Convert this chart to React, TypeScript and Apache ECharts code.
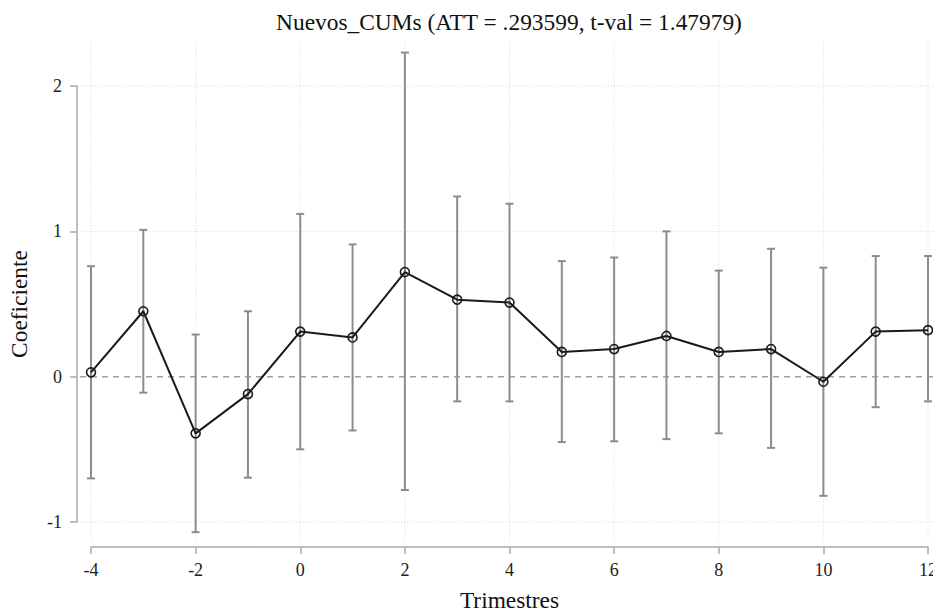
import { useEffect, useRef } from "react";
import * as echarts from "echarts";

// ---- data ----
const periods = [-4, -3, -2, -1, 0, 1, 2, 3, 4, 5, 6, 7, 8, 9, 10, 11, 12];
const coef = [0.03, 0.45, -0.39, -0.12, 0.31, 0.27, 0.72, 0.53, 0.51, 0.17, 0.19, 0.28, 0.17, 0.19, -0.035, 0.31, 0.32];
const ciLow = [-0.7, -0.11, -1.07, -0.695, -0.5, -0.37, -0.78, -0.17, -0.17, -0.45, -0.445, -0.43, -0.39, -0.49, -0.82, -0.21, -0.17];
const ciHigh = [0.76, 1.01, 0.29, 0.45, 1.12, 0.91, 2.23, 1.24, 1.19, 0.795, 0.82, 1.0, 0.73, 0.88, 0.75, 0.83, 0.83];
const xGridValues = [-4, -2, 0, 2, 4, 6, 8, 10, 12];
const yGridValues = [-1, 1, 2];
const refLineValues = [0];

const titleText = "Nuevos_CUMs (ATT = .293599, t-val = 1.47979)";
const xName = "Trimestres";
const yName = "Coeficiente";

// plot-region extent (data units) beyond the tick range
const PLOT_X_MIN = -4.21;
const PLOT_X_MAX = 12.6;
const PLOT_Y_MIN = -1.13;
const PLOT_Y_MAX = 2.3;

const FONT = "'Liberation Serif', 'Times New Roman', serif";
const AXIS_COLOR = "#ababab";

export default function App() {
  const ref = useRef<HTMLDivElement>(null);

  useEffect(() => {
    if (!ref.current) return;
    const chart = echarts.init(ref.current, null, { renderer: "svg" });

    const option: any = {
      animation: false,
      backgroundColor: "#ffffff",
      graphic: [
        {
          type: "text",
          x: 509,
          y: 22,
          style: {
            text: titleText,
            font: `23.4px ${FONT}`,
            fill: "#111111",
            textAlign: "center",
            textVerticalAlign: "middle",
          },
        },
      ],
      grid: { left: 91, top: 86, width: 837, height: 436, outerBoundsMode: "none", containLabel: false },
      xAxis: {
        type: "value",
        min: -4,
        max: 12,
        interval: 2,
        offset: 25,
        name: xName,
        nameLocation: "middle",
        nameGap: 41,
        nameTextStyle: { fontFamily: FONT, fontSize: 23.4, color: "#111" },
        axisLine: { show: true, onZero: false, lineStyle: { color: AXIS_COLOR, width: 1.5 } },
        axisTick: { show: true, length: 7, lineStyle: { color: AXIS_COLOR, width: 1.5 } },
        axisLabel: { fontFamily: FONT, fontSize: 18, color: "#222", margin: 14 },
        splitLine: { show: false },
      },
      yAxis: {
        type: "value",
        min: -1,
        max: 2,
        interval: 1,
        offset: 14,
        name: yName,
        nameLocation: "middle",
        nameGap: 47,
        nameTextStyle: { fontFamily: FONT, fontSize: 23.4, color: "#111" },
        axisLine: { show: true, onZero: false, lineStyle: { color: AXIS_COLOR, width: 1.5 } },
        axisTick: { show: true, length: 7, lineStyle: { color: AXIS_COLOR, width: 1.5 } },
        axisLabel: { fontFamily: FONT, fontSize: 18, color: "#222", margin: 15 },
        splitLine: { show: false },
      },
      series: [
        {
          type: "custom",
          name: "vgrid",
          clip: false,
          silent: true,
          z: 1,
          data: xGridValues.map((v) => [v, 0]),
          renderItem: (params: any, api: any) => {
            const x = api.value(0);
            const a = api.coord([x, PLOT_Y_MAX]);
            const b = api.coord([x, PLOT_Y_MIN]);
            return {
              type: "line",
              shape: { x1: a[0], y1: a[1], x2: b[0], y2: b[1] },
              style: { stroke: "#d8d8d8", lineWidth: 1, lineDash: [1, 2] },
            };
          },
        },
        {
          type: "custom",
          name: "hgrid",
          clip: false,
          silent: true,
          z: 1,
          data: yGridValues.map((v) => [0, v]),
          renderItem: (params: any, api: any) => {
            const y = api.value(1);
            const a = api.coord([PLOT_X_MIN, y]);
            const b = api.coord([PLOT_X_MAX, y]);
            return {
              type: "line",
              shape: { x1: a[0], y1: a[1], x2: b[0], y2: b[1] },
              style: { stroke: "#d8d8d8", lineWidth: 1, lineDash: [1, 2] },
            };
          },
        },
        {
          type: "custom",
          name: "zero",
          clip: false,
          silent: true,
          z: 2,
          data: refLineValues.map((v) => [0, v]),
          renderItem: (params: any, api: any) => {
            const y = api.value(1);
            const a = api.coord([PLOT_X_MIN, y]);
            const b = api.coord([PLOT_X_MAX, y]);
            return {
              type: "line",
              shape: { x1: a[0], y1: a[1], x2: b[0], y2: b[1] },
              style: { stroke: "#a0a0a0", lineWidth: 1.5, lineDash: [6, 5] },
            };
          },
        },
        {
          type: "custom",
          name: "ci",
          clip: false,
          silent: true,
          z: 3,
          data: periods.map((p, i) => [p, ciLow[i], ciHigh[i]]),
          renderItem: (params: any, api: any) => {
            const x = api.value(0);
            const lo = api.coord([x, api.value(1)]);
            const hi = api.coord([x, api.value(2)]);
            const hw = 4;
            const style = { stroke: "#8c8c8c", lineWidth: 2 };
            return {
              type: "group",
              children: [
                { type: "line", shape: { x1: lo[0], y1: lo[1], x2: hi[0], y2: hi[1] }, style },
                { type: "line", shape: { x1: lo[0] - hw, y1: lo[1], x2: lo[0] + hw, y2: lo[1] }, style },
                { type: "line", shape: { x1: hi[0] - hw, y1: hi[1], x2: hi[0] + hw, y2: hi[1] }, style },
              ],
            };
          },
        },
        {
          type: "line",
          name: "coef",
          clip: false,
          z: 5,
          data: periods.map((p, i) => [p, coef[i]]),
          symbol: "circle",
          symbolSize: 9,
          showSymbol: true,
          itemStyle: { color: "rgba(0,0,0,0)", borderColor: "#1a1a1a", borderWidth: 1.6 },
          lineStyle: { color: "#1a1a1a", width: 2 },
        },
      ],
    };

    chart.setOption(option);
    return () => chart.dispose();
  }, []);

  return (
    <div
      ref={ref}
      style={{ position: "fixed", left: 0, top: 0, width: 933, height: 612, background: "#fff" }}
    />
  );
}
